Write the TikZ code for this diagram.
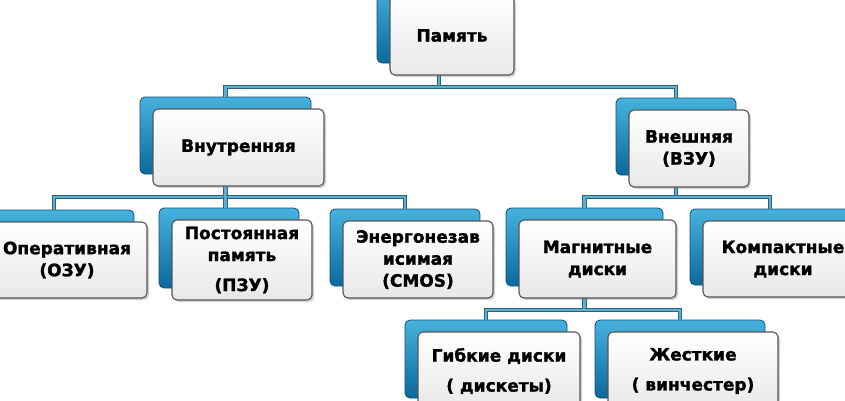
\documentclass[tikz,border=0pt]{standalone}
\usepackage{fontspec}
\setmainfont{DejaVu Sans}[BoldFeatures={FakeBold=1.5}]
\usetikzlibrary{shadows}
\definecolor{backtop}{RGB}{70,178,222}
\definecolor{backbot}{RGB}{10,105,155}
\definecolor{backline}{RGB}{15,80,115}
\definecolor{frameline}{RGB}{85,85,85}
\definecolor{busdark}{RGB}{40,100,130}
\definecolor{buslight}{RGB}{95,175,205}
\begin{document}
\begin{tikzpicture}[x=1pt,y=-1pt,
  back/.style={draw=backline, line width=0.8pt, rounded corners=5pt,
    top color=backtop, bottom color=backbot, inner sep=0pt},
  front/.style={draw=frameline, line width=1.1pt, rounded corners=5pt,
    top color=white, bottom color=black!9, inner sep=0pt, align=center,
    font=\fontsize{17}{22}\selectfont\bfseries,
    drop shadow={opacity=0.35, shadow xshift=2pt, shadow yshift=-2pt}},
  bus/.style={draw=busdark, line width=1pt, double=buslight, double distance=2.4pt}]
\path[use as bounding box, clip] (0,0) rectangle (845,400);
\fill[white] (0,0) rectangle (845,400);

\coordinate (lvl1) at (0,87);
\coordinate (lvl2) at (0,197);
\coordinate (lvl3) at (0,310);

% back boxes
\node[back, minimum width=124pt, minimum height=79pt] (bmem) at (439,23.5) {};
\node[back, minimum width=171pt, minimum height=77pt] (bint) at (225.5,135.5) {};
\node[back, minimum width=120pt, minimum height=77pt] (bext) at (676,136.5) {};
\node[back, minimum width=160pt, minimum height=76pt] (bram) at (54,248) {};
\node[back, minimum width=140pt, minimum height=80pt] (brom) at (229,248) {};
\node[back, minimum width=150pt, minimum height=77pt] (bcmos) at (405,247.5) {};
\node[back, minimum width=157pt, minimum height=78pt] (bmag) at (584.5,247) {};
\node[back, minimum width=160pt, minimum height=76pt] (bcd) at (770,247) {};
\node[back, minimum width=162pt, minimum height=78pt] (bfdd) at (486,359) {};
\node[back, minimum width=170pt, minimum height=78pt] (bhdd) at (680,359) {};

% connectors
\path[bus] (bmem.south) -- (bmem.south |- lvl1) -| (bint.north);
\path[bus] (bmem.south |- lvl1) -| (bext.north);
\path[bus] (bint.south) -- (bint.south |- lvl2) -| (bram.north);
\path[bus] (bint.south |- lvl2) -| (bcmos.north);
\path[bus] (bint.south |- lvl2) -- (brom.north -| bint.south);
\path[bus] (bext.south) -- (bext.south |- lvl2) -| (bmag.north);
\path[bus] (bext.south |- lvl2) -| (bcd.north);
\path[bus] (bmag.south) -- (bmag.south |- lvl3) -| (bfdd.north);
\path[bus] (bmag.south |- lvl3) -| (bhdd.north);

% front boxes
\node[front, minimum width=124pt, minimum height=79pt] (mem) at (452,35.5) {Память};
\node[front, minimum width=171pt, minimum height=77pt] (int) at (238.5,147.5) {Внутренняя};
\node[front, minimum width=120pt, minimum height=77pt] (ext) at (689,148.5) {Внешняя\\(ВЗУ)};
\node[front, minimum width=160pt, minimum height=76pt] (ram) at (67,260) {Оперативная\\(ОЗУ)};
\node[front, minimum width=140pt, minimum height=80pt] (rom) at (242,260) {Постоянная\\память\\[8pt](ПЗУ)};
\node[front, minimum width=150pt, minimum height=77pt] (cmos) at (418,259.5) {Энергонезав\\исимая\\(CMOS)};
\node[front, minimum width=157pt, minimum height=78pt] (mag) at (597.5,259) {Магнитные\\диски};
\node[front, minimum width=160pt, minimum height=76pt] (cd) at (783,259) {Компактные\\диски};
\node[front, minimum width=162pt, minimum height=78pt] (fdd) at (499,371) {Гибкие диски\\[8pt]( дискеты)};
\node[front, minimum width=170pt, minimum height=78pt] (hdd) at (693,371) {Жесткие\\[8pt]( винчестер)};
\end{tikzpicture}
\end{document}
